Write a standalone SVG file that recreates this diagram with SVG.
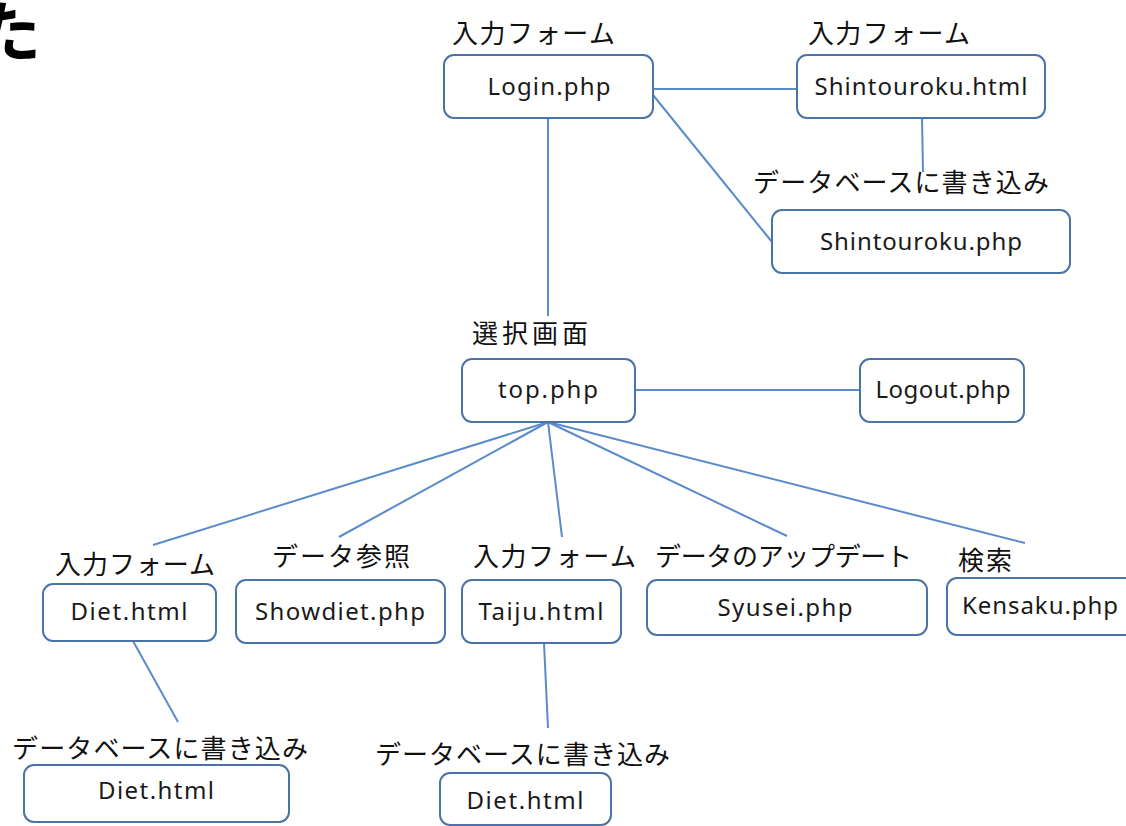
<svg xmlns="http://www.w3.org/2000/svg" width="1126" height="826" viewBox="0 0 1126 826">
<style>
.box{fill:#ffffff;stroke:#4A74A6;stroke-width:2}
.lbl{font-family:"Noto Sans CJK JP","Noto Sans",sans-serif;font-size:26px;fill:#111}
.nt{font-family:"Noto Sans","Open Sans",sans-serif;font-size:24px;fill:#1a1a1a;text-anchor:middle}
.ln{stroke:#5B8BCB;stroke-width:2;fill:none}
</style>
<rect width="1126" height="826" fill="#ffffff"/>
<text x="-25" y="56" font-family="Noto Sans CJK JP, sans-serif" font-size="66" font-weight="bold" fill="#000">た</text>
<g id="connectors">
<line class="ln" x1="653" y1="89" x2="797" y2="89"/>
<line class="ln" x1="653" y1="95" x2="772" y2="242"/>
<line class="ln" x1="922" y1="118" x2="923" y2="172"/>
<line class="ln" x1="548" y1="118" x2="548" y2="316"/>
<line class="ln" x1="635" y1="390" x2="860" y2="390"/>
<line class="ln" x1="548" y1="422" x2="153" y2="545"/>
<line class="ln" x1="548" y1="422" x2="339" y2="537"/>
<line class="ln" x1="548" y1="422" x2="562" y2="537"/>
<line class="ln" x1="548" y1="422" x2="787" y2="536"/>
<line class="ln" x1="548" y1="422" x2="1025" y2="543"/>
<line class="ln" x1="133" y1="641" x2="178" y2="722"/>
<line class="ln" x1="544" y1="643" x2="548" y2="728"/>
</g>
<g id="login">
<text class="lbl" x="452" y="43" textLength="163">入力フォーム</text>
<rect class="box" x="444" y="55" width="209" height="63" rx="10"/>
<text class="nt" x="549" y="95" textLength="123">Login.php</text>
</g>
<g id="shintouroku-html">
<text class="lbl" x="808" y="43" textLength="162">入力フォーム</text>
<rect class="box" x="797" y="55" width="248" height="63" rx="10"/>
<text class="nt" x="921" y="95" textLength="213">Shintouroku.html</text>
</g>
<g id="shintouroku-php">
<text class="lbl" x="753" y="192" textLength="296">データベースに書き込み</text>
<rect class="box" x="772" y="210" width="298" height="63" rx="10"/>
<text class="nt" x="921" y="250" textLength="202">Shintouroku.php</text>
</g>
<g id="top">
<text class="lbl" x="472" y="343" textLength="116">選択画面</text>
<rect class="box" x="462" y="359" width="173" height="63" rx="10"/>
<text class="nt" x="548" y="398" textLength="100">top.php</text>
</g>
<g id="logout">
<rect class="box" x="860" y="359" width="164" height="63" rx="10"/>
<text class="nt" x="943" y="398" textLength="135">Logout.php</text>
</g>
<g id="diet">
<text class="lbl" x="55" y="574" textLength="160">入力フォーム</text>
<rect class="box" x="43" y="584" width="173" height="57" rx="10"/>
<text class="nt" x="129" y="620" textLength="117">Diet.html</text>
</g>
<g id="showdiet">
<text class="lbl" x="272" y="566" textLength="138">データ参照</text>
<rect class="box" x="236" y="580" width="209" height="63" rx="10"/>
<text class="nt" x="340" y="620" textLength="170">Showdiet.php</text>
</g>
<g id="taiju">
<text class="lbl" x="473" y="566" textLength="163">入力フォーム</text>
<rect class="box" x="462" y="580" width="159" height="63" rx="10"/>
<text class="nt" x="541" y="620" textLength="125">Taiju.html</text>
</g>
<g id="syusei">
<text class="lbl" x="655" y="566" textLength="257">データのアップデート</text>
<rect class="box" x="647" y="580" width="280" height="55" rx="10"/>
<text class="nt" x="785" y="616" textLength="135">Syusei.php</text>
</g>
<g id="kensaku">
<text class="lbl" x="958" y="570" textLength="54">検索</text>
<rect class="box" x="947" y="578" width="200" height="57" rx="10"/>
<text class="nt" x="1040" y="614" textLength="156">Kensaku.php</text>
</g>
<g id="diet-db1">
<text class="lbl" x="12" y="758" textLength="296">データベースに書き込み</text>
<rect class="box" x="24" y="765" width="265" height="57" rx="10"/>
<text class="nt" x="156" y="799" textLength="116">Diet.html</text>
</g>
<g id="diet-db2">
<text class="lbl" x="375" y="764" textLength="295">データベースに書き込み</text>
<rect class="box" x="440" y="773" width="171" height="52" rx="10"/>
<text class="nt" x="525" y="809" textLength="117">Diet.html</text>
</g>
</svg>
